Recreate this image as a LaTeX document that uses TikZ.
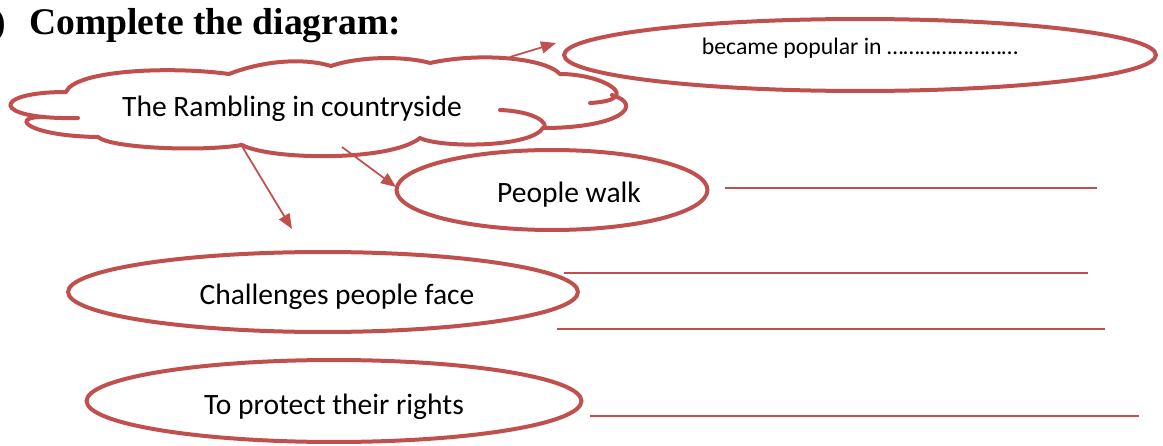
\documentclass[tikz,border=0pt]{standalone}
\usepackage{fontspec}
\setmainfont{Carlito}
\newfontfamily\headfont{Liberation Serif}
\usetikzlibrary{arrows.meta,shapes.geometric}
\definecolor{dred}{RGB}{192,80,77}
\pgfdeclarelayer{edgelayer}
\pgfdeclarelayer{nodelayer}
\pgfsetlayers{edgelayer,nodelayer,main}
\tikzstyle{bubble}=[ellipse, draw=dred, line width=0.08cm, inner sep=0pt, text height=0.62cm, text depth=0.1cm, font=\fontsize{16.8}{20}\selectfont]
\tikzstyle{puff}=[draw=dred, line width=0.08cm, line cap=round]
\tikzstyle{pointer}=[draw=dred, fill=none, line width=0.035cm, -{Triangle[length=0.3cm,width=0.24cm]}]
\tikzstyle{answer}=[draw=dred, line width=0.04cm]
\tikzstyle{heading}=[inner sep=0pt, font=\headfont\bfseries\fontsize{21.4}{25}\selectfont]

\begin{document}
\begin{tikzpicture}[x=0.02cm, y=-0.02cm]
            \useasboundingbox (0,0) rectangle (1163,446);
            \begin{pgfonlayer}{nodelayer}
                \node [style=heading, anchor=base east] (num) at (6, 35) {)};
                \node [style=heading, anchor=base west] (title) at (29, 35) {Complete the diagram:};
                \node [font=\fontsize{16.8}{20}\selectfont, anchor=base] (ramble) at (292, 116) {The Rambling in countryside};
                \node [style=bubble, minimum width=11.84cm, minimum height=1.44cm, text height=0.4cm, text depth=0.4cm, font=\fontsize{13.5}{16}\selectfont] (popular) at (860, 55) {became popular in ……………………};
                \node [style=bubble, minimum width=6.22cm, minimum height=1.6cm] (walk) at (552, 190) {\hspace*{0.68cm}People walk};
                \node [style=bubble, minimum width=10.2cm, minimum height=1.6cm] (challenge) at (323, 292) {\hspace*{0.56cm}Challenges people face};
                \node [style=bubble, minimum width=9.9cm, minimum height=1.64cm] (rights) at (334, 401) {To protect their rights};
                \draw [style=puff] (66,92) .. controls (75,70) and (170,66) .. (229,74)
                    .. controls (265,60) and (305,58) .. (331,66)
                    .. controls (360,56) and (405,56) .. (430,63)
                    .. controls (480,52) and (545,58) .. (560,74)
                    .. controls (605,74) and (645,100) .. (590,103);
                \draw [style=puff] (612,95) .. controls (645,105) and (620,128) .. (543,128)
                    .. controls (530,148) and (440,148) .. (420,138)
                    .. controls (390,162) and (270,160) .. (242,145)
                    .. controls (200,152) and (110,148) .. (98,137)
                    .. controls (30,136) and (10,118) .. (40,117);
                \draw [style=puff] (78,118) .. controls (-10,120) and (-10,92) .. (66,92);
                \draw [style=puff] (500,110) .. controls (525,111) and (545,118) .. (545,127);
            \end{pgfonlayer}
            \begin{pgfonlayer}{edgelayer}
                \coordinate (c1) at (240, 143);
                \coordinate (c2) at (342, 147);
                \coordinate (c3) at (510, 57);
                \coordinate (t1) at (292, 229);
                \coordinate (t2) at (396, 187);
                \coordinate (t3) at (556, 43);
                \draw [style=pointer] (c1) to (t1);
                \draw [style=pointer] (c2) to (t2);
                \draw [style=pointer] (c3) to (t3);
                \coordinate (a1) at (725, 188);
                \coordinate (b1) at (1097, 188);
                \coordinate (a2) at (564, 273);
                \coordinate (b2) at (1088, 273);
                \coordinate (a3) at (557, 329);
                \coordinate (b3) at (1105, 329);
                \coordinate (a4) at (590, 416);
                \coordinate (b4) at (1139, 416);
                \draw [style=answer] (a1) to (b1);
                \draw [style=answer] (a2) to (b2);
                \draw [style=answer] (a3) to (b3);
                \draw [style=answer] (a4) to (b4);
            \end{pgfonlayer}
        \end{tikzpicture}
\end{document}
